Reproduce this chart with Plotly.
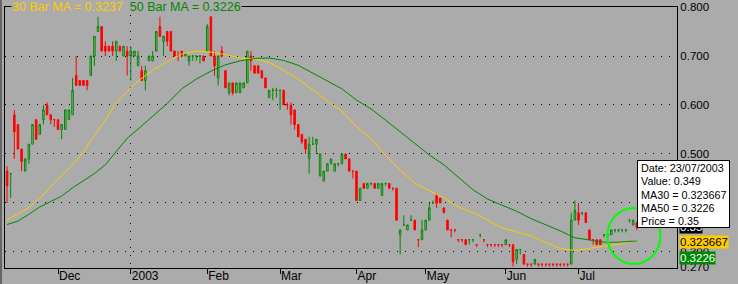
import pandas as pd
import plotly.graph_objects as go

# ---------------- data ----------------
holidays = ["2002-12-25", "2002-12-26", "2003-01-01", "2003-01-27",
            "2003-04-18", "2003-04-21", "2003-04-25", "2003-06-09"]
dates = [d for d in pd.bdate_range("2002-11-12", "2003-07-23")
         if d.strftime("%Y-%m-%d") not in holidays]

opens = [
    0.465, 0.460, 0.580, 0.560, 0.510, 0.465, 0.490, 0.520, 0.570, 0.540,
    0.570, 0.600, 0.580, 0.570, 0.570, 0.550, 0.550, 0.570, 0.580, 0.660,
    0.650, 0.650, 0.650, 0.660, 0.700, 0.750, 0.760, 0.720, 0.720, 0.720,
    0.710, 0.720, 0.700, 0.710, 0.700, 0.700, 0.680, 0.670, 0.650, 0.690,
    0.690, 0.710, 0.760, 0.730, 0.750, 0.750, 0.710, 0.700, 0.710, 0.700,
    0.690, 0.700, 0.700, 0.700, 0.700, 0.710, 0.780, 0.700, 0.655, 0.710,
    0.670, 0.625, 0.645, 0.625, 0.625, 0.635, 0.645, 0.700, 0.680, 0.680,
    0.670, 0.655, 0.615, 0.630, 0.630, 0.630, 0.630, 0.600, 0.600, 0.590,
    0.560, 0.540, 0.530, 0.490, 0.520, 0.520, 0.455, 0.445, 0.465, 0.480,
    0.465, 0.480, 0.480, 0.500, 0.490, 0.465, 0.465, 0.405, 0.440, 0.430,
    0.440, 0.440, 0.430, 0.415, 0.440, 0.440, 0.430, 0.430, 0.335, 0.355,
    0.345, 0.365, 0.365, 0.325, 0.325, 0.345, 0.365, 0.400, 0.415, 0.410,
    0.390, 0.365, 0.345, 0.345, 0.325, 0.325, 0.325, 0.325, 0.325, 0.315,
    0.335, 0.325, 0.315, 0.315, 0.315, 0.315, 0.315, 0.315, 0.315, 0.315,
    0.285, 0.305, 0.295, 0.275, 0.275, 0.275, 0.275, 0.275, 0.275, 0.275,
    0.275, 0.275, 0.275, 0.275, 0.275, 0.275, 0.365, 0.380, 0.380, 0.380,
    0.345, 0.325, 0.325, 0.325, 0.335, 0.335, 0.335, 0.345, 0.345, 0.345,
    0.345, 0.365, 0.355, 0.360,
]
highs = [
    0.475, 0.460, 0.590, 0.560, 0.510, 0.490, 0.520, 0.560, 0.570, 0.560,
    0.600, 0.605, 0.580, 0.570, 0.570, 0.560, 0.590, 0.590, 0.655, 0.700,
    0.650, 0.650, 0.650, 0.700, 0.740, 0.780, 0.760, 0.730, 0.720, 0.730,
    0.730, 0.720, 0.720, 0.720, 0.720, 0.710, 0.710, 0.680, 0.680, 0.700,
    0.710, 0.750, 0.780, 0.740, 0.750, 0.750, 0.710, 0.710, 0.710, 0.705,
    0.700, 0.700, 0.700, 0.700, 0.700, 0.765, 0.780, 0.710, 0.700, 0.720,
    0.670, 0.645, 0.645, 0.645, 0.645, 0.645, 0.710, 0.710, 0.680, 0.680,
    0.670, 0.655, 0.630, 0.635, 0.635, 0.630, 0.630, 0.605, 0.605, 0.590,
    0.560, 0.540, 0.530, 0.535, 0.535, 0.530, 0.500, 0.465, 0.480, 0.490,
    0.480, 0.480, 0.500, 0.500, 0.490, 0.465, 0.465, 0.430, 0.440, 0.440,
    0.440, 0.440, 0.440, 0.440, 0.440, 0.440, 0.430, 0.430, 0.345, 0.375,
    0.355, 0.375, 0.365, 0.325, 0.365, 0.365, 0.400, 0.405, 0.420, 0.410,
    0.390, 0.365, 0.345, 0.345, 0.325, 0.325, 0.325, 0.325, 0.325, 0.315,
    0.335, 0.325, 0.315, 0.315, 0.315, 0.315, 0.315, 0.325, 0.315, 0.315,
    0.305, 0.305, 0.295, 0.275, 0.275, 0.285, 0.275, 0.275, 0.275, 0.275,
    0.275, 0.275, 0.275, 0.275, 0.275, 0.380, 0.405, 0.400, 0.380, 0.380,
    0.345, 0.325, 0.325, 0.325, 0.335, 0.335, 0.345, 0.345, 0.345, 0.345,
    0.345, 0.365, 0.365, 0.360,
]
lows = [
    0.400, 0.410, 0.490, 0.510, 0.465, 0.465, 0.480, 0.520, 0.530, 0.540,
    0.560, 0.580, 0.560, 0.555, 0.550, 0.530, 0.550, 0.570, 0.580, 0.640,
    0.640, 0.640, 0.630, 0.660, 0.680, 0.750, 0.710, 0.700, 0.710, 0.700,
    0.690, 0.710, 0.700, 0.660, 0.650, 0.700, 0.680, 0.650, 0.630, 0.690,
    0.690, 0.710, 0.740, 0.700, 0.720, 0.710, 0.700, 0.690, 0.700, 0.700,
    0.680, 0.690, 0.690, 0.685, 0.690, 0.710, 0.700, 0.660, 0.640, 0.700,
    0.635, 0.620, 0.620, 0.625, 0.625, 0.635, 0.645, 0.670, 0.665, 0.665,
    0.655, 0.635, 0.615, 0.610, 0.615, 0.590, 0.600, 0.590, 0.560, 0.550,
    0.535, 0.520, 0.500, 0.460, 0.520, 0.500, 0.455, 0.445, 0.465, 0.480,
    0.465, 0.475, 0.480, 0.490, 0.465, 0.450, 0.405, 0.405, 0.430, 0.430,
    0.435, 0.430, 0.430, 0.415, 0.435, 0.430, 0.425, 0.365, 0.295, 0.355,
    0.345, 0.365, 0.345, 0.310, 0.325, 0.345, 0.365, 0.400, 0.390, 0.400,
    0.380, 0.345, 0.330, 0.340, 0.320, 0.320, 0.315, 0.315, 0.320, 0.310,
    0.330, 0.320, 0.310, 0.310, 0.310, 0.310, 0.310, 0.315, 0.310, 0.270,
    0.275, 0.295, 0.275, 0.270, 0.270, 0.275, 0.270, 0.270, 0.270, 0.270,
    0.270, 0.270, 0.270, 0.270, 0.270, 0.275, 0.365, 0.355, 0.375, 0.360,
    0.325, 0.315, 0.315, 0.315, 0.330, 0.330, 0.335, 0.340, 0.340, 0.340,
    0.340, 0.360, 0.355, 0.345,
]
closes = [
    0.435, 0.460, 0.545, 0.510, 0.485, 0.490, 0.520, 0.560, 0.530, 0.560,
    0.590, 0.580, 0.570, 0.570, 0.550, 0.560, 0.590, 0.590, 0.630, 0.640,
    0.640, 0.640, 0.640, 0.700, 0.740, 0.760, 0.710, 0.710, 0.710, 0.710,
    0.730, 0.710, 0.720, 0.700, 0.710, 0.710, 0.700, 0.650, 0.670, 0.700,
    0.700, 0.750, 0.740, 0.740, 0.730, 0.710, 0.700, 0.700, 0.700, 0.705,
    0.700, 0.700, 0.700, 0.700, 0.690, 0.760, 0.700, 0.680, 0.700, 0.700,
    0.635, 0.645, 0.625, 0.645, 0.645, 0.645, 0.710, 0.690, 0.665, 0.665,
    0.655, 0.635, 0.630, 0.630, 0.630, 0.630, 0.600, 0.600, 0.580, 0.560,
    0.535, 0.525, 0.510, 0.520, 0.520, 0.530, 0.500, 0.465, 0.480, 0.490,
    0.480, 0.480, 0.500, 0.490, 0.465, 0.465, 0.405, 0.430, 0.430, 0.440,
    0.440, 0.430, 0.440, 0.440, 0.440, 0.430, 0.430, 0.365, 0.345, 0.355,
    0.355, 0.365, 0.345, 0.325, 0.345, 0.365, 0.390, 0.400, 0.400, 0.400,
    0.380, 0.345, 0.345, 0.345, 0.325, 0.325, 0.315, 0.325, 0.325, 0.315,
    0.335, 0.325, 0.315, 0.315, 0.315, 0.315, 0.315, 0.325, 0.315, 0.280,
    0.305, 0.305, 0.275, 0.275, 0.275, 0.285, 0.275, 0.275, 0.275, 0.275,
    0.275, 0.275, 0.275, 0.275, 0.275, 0.365, 0.385, 0.365, 0.380, 0.360,
    0.325, 0.325, 0.315, 0.315, 0.335, 0.335, 0.345, 0.345, 0.345, 0.345,
    0.345, 0.365, 0.365, 0.350,
]

# moving averages at these bar positions
ma_idx = [0, 3, 6, 9, 12, 15, 18, 21, 24, 27, 30, 33, 36, 40, 44, 48, 52, 56,
          60, 64, 68, 72, 76, 80, 84, 88, 92, 96, 100, 104, 108, 112, 116,
          120, 124, 128, 132, 136, 140, 144, 148, 152, 156, 160, 164, 168, 173]
ma30 = [0.365, 0.378, 0.391, 0.410, 0.433, 0.454, 0.478, 0.504, 0.538, 0.569,
        0.604, 0.628, 0.649, 0.671, 0.688, 0.704, 0.710, 0.708, 0.703, 0.696,
        0.694, 0.687, 0.671, 0.653, 0.631, 0.608, 0.587, 0.556, 0.531, 0.497,
        0.467, 0.441, 0.425, 0.411, 0.392, 0.380, 0.365, 0.349, 0.341, 0.333,
        0.319, 0.307, 0.303, 0.307, 0.311, 0.316, 0.323667]
ma50 = [0.356, 0.363, 0.377, 0.392, 0.403, 0.414, 0.431, 0.445, 0.460, 0.478,
        0.505, 0.532, 0.551, 0.576, 0.603, 0.633, 0.653, 0.669, 0.682, 0.690,
        0.695, 0.696, 0.691, 0.681, 0.665, 0.649, 0.633, 0.610, 0.592, 0.569,
        0.545, 0.522, 0.498, 0.478, 0.453, 0.427, 0.408, 0.395, 0.383, 0.368,
        0.356, 0.343, 0.329, 0.324, 0.320, 0.320, 0.3226]
cursor_value = 0.349

y_ticks = [0.27, 0.3, 0.4, 0.5, 0.6, 0.7, 0.8]
y_grid = [0.3, 0.4, 0.5, 0.6, 0.7]

# ---------------- styling ----------------
BG = "#ABABAB"
GREEN = "#008800"
RED = "#FF0000"
GOLD = "#FFCC00"
FONT = "Liberation Sans, Arial, sans-serif"
FS = 11.5

n = len(dates)
xs = list(range(n))
month_starts = [i for i in range(1, n) if dates[i].month != dates[i - 1].month]
month_text = ["2003" if dates[i].month == 1 else dates[i].strftime("%b") for i in month_starts]
year_idx = [i for i in month_starts if dates[i].month == 1]

fig = go.Figure()
fig.add_trace(go.Candlestick(
    x=xs, open=opens, high=highs, low=lows, close=closes,
    increasing=dict(line=dict(color=GREEN, width=1), fillcolor="rgba(0,0,0,0)"),
    decreasing=dict(line=dict(color=RED, width=1), fillcolor=RED),
    whiskerwidth=0, hoverinfo="skip", showlegend=False,
))
fig.add_trace(go.Scatter(x=ma_idx, y=ma30, mode="lines",
                         line=dict(color=GOLD, width=1), hoverinfo="skip"))
fig.add_trace(go.Scatter(x=ma_idx, y=ma50, mode="lines",
                         line=dict(color=GREEN, width=1), hoverinfo="skip"))

L, R, T, B = 5, 61, 7, 16
W, H = 738, 284
pw, ph = W - L - R, H - T - B


def px_x(p):
    return (p - L) / pw


def px_y(p):
    return 1 - (p - T) / ph


fig.update_layout(
    width=W, height=H, margin=dict(l=L, r=R, t=T, b=B, autoexpand=False),
    paper_bgcolor=BG, plot_bgcolor=BG, showlegend=False, hovermode=False,
    boxgap=0.4,
    font=dict(family=FONT, size=FS, color="black"),
    xaxis=dict(
        range=[-0.56, 184.05], tickmode="array", tickvals=month_starts, ticktext=month_text,
        ticks="outside", ticklen=5, tickcolor="black", tickwidth=1,
        ticklabelposition="outside right", ticklabelstandoff=-3, automargin=False,
        showgrid=False, zeroline=False, showline=True, mirror=True,
        linecolor="black", linewidth=1, rangeslider=dict(visible=False),
        tickfont=dict(family=FONT, size=12, color="black"),
        minor=dict(tickmode="array", tickvals=year_idx, showgrid=True, gridcolor="black",
                   gridwidth=1, griddash="1px,7px", ticks=""),
    ),
    yaxis=dict(
        side="right", range=[0.2673, 0.8], tickmode="array", tickvals=y_ticks,
        ticktext=[f"{v:.3f}" for v in y_ticks], ticks="", showgrid=False, automargin=False,
        zeroline=False, showline=True, mirror=True, linecolor="black", linewidth=1,
        tickfont=dict(family=FONT, size=FS, color="black"),
        minor=dict(tickmode="array", tickvals=y_grid, showgrid=True, gridcolor="black",
                   gridwidth=1, griddash="1px,7px", ticks=""),
    ),
)

# highlight circle and window border
fig.add_shape(type="circle", xref="x", yref="y", x0=164.9, x1=179.5, y0=0.2755, y1=0.3898,
              line=dict(color="#00FF00", width=2), layer="above")
fig.add_shape(type="line", xref="paper", yref="paper", x0=px_x(1), x1=px_x(1),
              y0=px_y(284), y1=px_y(0), line=dict(color="#202020", width=1))

ann = []
# legend
ann.append(dict(
    xref="paper", yref="paper", x=px_x(11), y=1, xanchor="left", yanchor="middle",
    text=(f"<span style='color:{GOLD}'>30 Bar MA = {round(ma30[-1], 4)}</span>"
          f"&nbsp;&nbsp;<span style='color:{GREEN}'>50 Bar MA = {ma50[-1]:g}</span>"),
    showarrow=False, bgcolor=BG, borderpad=0, font=dict(size=12.5, family=FONT)))
# right-side value badges
ann.append(dict(xref="paper", yref="y", x=1, xshift=2, y=closes[-1], yshift=0,
                xanchor="left", yanchor="middle", text=f"{closes[-1]:.2f}", showarrow=False,
                bgcolor="black", borderpad=0, font=dict(color="white", size=FS, family=FONT)))
ann.append(dict(xref="paper", yref="y", x=1, xshift=2, y=ma30[-1], yshift=-2,
                xanchor="left", yanchor="middle", text=f"{ma30[-1]:g}", showarrow=False,
                bgcolor=GOLD, borderpad=0, font=dict(color="black", size=FS, family=FONT)))
ann.append(dict(xref="paper", yref="y", x=1, xshift=2, y=ma50[-1], yshift=-17,
                xanchor="left", yanchor="middle", text=f"{ma50[-1]:g}", showarrow=False,
                bgcolor=GREEN, borderpad=0, font=dict(color="white", size=FS, family=FONT)))
# tooltip box
ann.append(dict(xref="paper", yref="paper", x=px_x(637), y=px_y(160), xanchor="left",
                yanchor="top", text=" ", width=91, height=66, showarrow=False,
                bgcolor="white", bordercolor="black", borderwidth=1, borderpad=0))
tip_lines = [
    f"Date: {dates[-1]:%d/%m/%Y}",
    f"Value: {cursor_value}",
    f"MA30 = {ma30[-1]:g}",
    f"MA50 = {ma50[-1]:g}",
    f"Price = {closes[-1]:g}",
]
for k, line in enumerate(tip_lines):
    ann.append(dict(xref="paper", yref="paper", x=px_x(639), y=px_y(168 + 13.3 * k),
                    xanchor="left", yanchor="middle", text=line, showarrow=False,
                    font=dict(color="black", size=10.8, family=FONT)))
fig.update_layout(annotations=ann)

fig.write_html("out.html")
